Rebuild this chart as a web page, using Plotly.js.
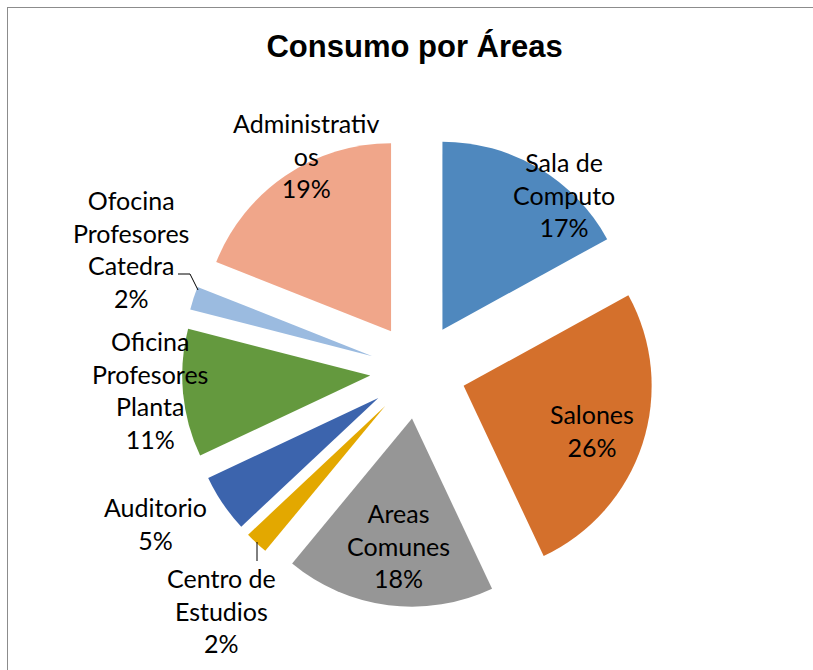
<!DOCTYPE html>
<html><head><meta charset="utf-8">
<script src="https://cdn.plot.ly/plotly-3.0.1.min.js"></script>
<style>
html,body{margin:0;padding:0;background:#fff;}
#wrap{position:relative;width:813px;height:670px;overflow:hidden;}
#frame{position:absolute;left:7px;top:7px;width:900px;height:900px;border:1px solid #8c8c8c;pointer-events:none;}
</style></head>
<body>
<div id="wrap"><div id="chart" style="width:813px;height:670px;"></div><div id="frame"></div></div>
<script>
// ---- data ----
const categories = ["Sala de Computo","Salones","Areas Comunes","Centro de Estudios","Auditorio","Oficina Profesores Planta","Ofocina Profesores Catedra","Administrativos"];
const labelText = ["Sala de<br>Computo","Salones","Areas<br>Comunes","Centro de<br>Estudios","Auditorio","Oficina<br>Profesores<br>Planta","Ofocina<br>Profesores<br>Catedra","Administrativ<br>os"];
const values = [17,26,18,2,5,11,2,19];
const colors = ["#4F88BE","#D4702C","#969696","#E3A800","#3C64AD","#64993E","#9BBBE0","#F0A68A"];

// ---- layout helpers (pixel positions of the data labels) ----
const W = 813, H = 670, M = {l:182, r:159, t:135, b:63};
const pw = W - M.l - M.r, ph = H - M.t - M.b;
const px = x => (x - M.l) / pw;
const py = y => 1 - (y - M.t) / ph;
const labelPos = [[564,194],[592,430],[398,545],[221,610],[155,523],[150,390],[131,249],[306,155]];
const leaders = [[[178,274],[190,274],[198,290]], [[257,542],[257,561]]];

const total = values.reduce((a,b)=>a+b,0);
const annotations = categories.map((c,i)=>({
  text: labelText[i] + "<br>" + Math.round(values[i]/total*100) + "%",
  x: px(labelPos[i][0]), y: py(labelPos[i][1]), xref:"paper", yref:"paper",
  xanchor:"center", yanchor:"middle", showarrow:false, align:"center",
  font:{family:"Lato, 'Open Sans', sans-serif", size:25, color:"#000"}
}));
const shapes = leaders.map(pts=>({
  type:"path", xref:"paper", yref:"paper",
  path: pts.map((p,j)=>(j?"L":"M")+px(p[0])+","+py(p[1])).join(" "),
  line:{color:"#000", width:1}
}));

Plotly.newPlot("chart",[{
  type:"pie",
  labels:categories,
  values:values,
  sort:false,
  direction:"clockwise",
  rotation:0,
  pull:0.255,
  marker:{colors:colors,line:{width:0}},
  textinfo:"none",
  hoverinfo:"none",
  showlegend:false
}],{
  width:W,height:H,
  margin:M,
  paper_bgcolor:"#fff",
  title:{text:"Consumo por Áreas",font:{family:"Liberation Sans, Arial, sans-serif",size:31,color:"#000",weight:"bold"},
    x:0.51,xref:"container",xanchor:"center",y:0.931,yref:"container",yanchor:"middle"},
  annotations:annotations,
  shapes:shapes,
  showlegend:false
},{displayModeBar:false,staticPlot:true});
</script>
</body></html>
